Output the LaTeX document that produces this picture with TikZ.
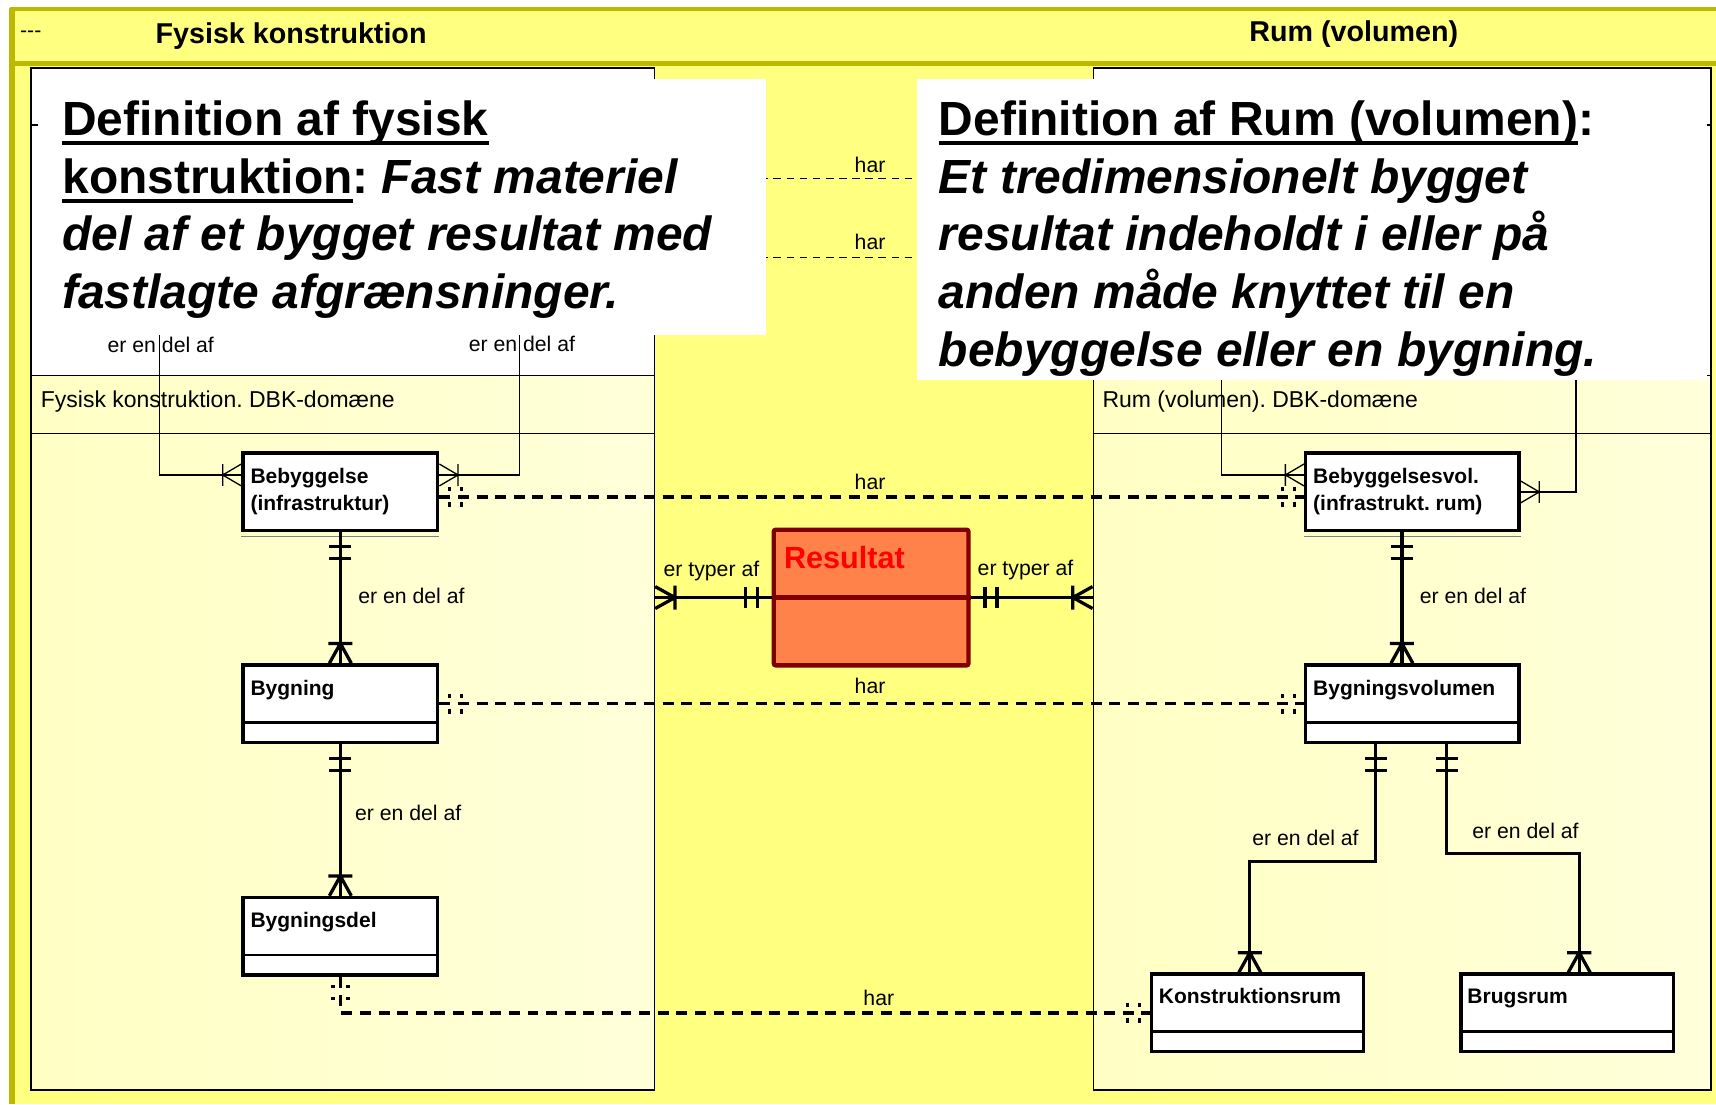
\documentclass[tikz,border=0pt]{standalone}
\usepackage{fontspec}
\setmainfont{Liberation Sans}
\usetikzlibrary{calc}
\definecolor{olivebar}{RGB}{189,184,0}
\definecolor{bgyellow}{RGB}{255,255,128}
\definecolor{domyellow}{RGB}{255,255,196}
\definecolor{domlight}{RGB}{255,255,218}
\definecolor{resfill}{RGB}{255,130,74}
\definecolor{resline}{RGB}{128,0,0}
% thick underline for the definition headings
\newcommand{\thickul}[1]{\leavevmode\setbox0\hbox{#1}\rlap{\vrule height -2.6pt depth 4.4pt width \wd0}\box0}
\frenchspacing

\begin{document}
\begin{tikzpicture}[x=0.5pt,y=-0.5pt,
    entity/.style={draw,line width=1.5pt,fill=white,minimum width=89pt,minimum height=35.5pt,inner sep=0pt},
    ename/.style={anchor=north west,inner sep=0pt,align=left,font=\fontsize{9.6}{12.5}\selectfont\bfseries},
    lbl/.style={anchor=base west,inner sep=0pt,font=\fontsize{9.7}{11.6}\selectfont},
    bandtitle/.style={anchor=base,inner sep=0pt,font=\fontsize{13.1}{15}\selectfont\bfseries},
    domtitle/.style={anchor=base west,inner sep=0pt,font=\fontsize{10.5}{12.6}\selectfont},
    deftext/.style={anchor=north west,inner sep=0pt,align=left,font=\fontsize{21.9}{26.35}\selectfont\bfseries},
    defbox/.style={fill=white,inner sep=0pt},
    panel/.style={draw,line width=0.7pt},
    divider/.style={line width=0.7pt},
    rel/.style={line width=1.5pt},
    relthin/.style={line width=0.6pt},
    hasline/.style={line width=1.5pt,dash pattern=on 5pt off 3.5pt},
    hasthin/.style={line width=0.5pt,dash pattern=on 3.5pt off 2.5pt},
    hasmark/.style={line width=1.3pt,dash pattern=on 2pt off 5pt},
    onlyone/.pic={\draw[rel] (13,-10) -- (13,10) (24,-10) -- (24,10);},
    onemany/.pic={\draw[rel] (18,-11) -- (18,11) (0,-10) -- (18,0) -- (0,10);},
    onemanythin/.pic={\draw[relthin] (17,-10) -- (17,10) (0,-10) -- (17,0) -- (0,10);},
    zeroone/.pic={\draw[hasmark] (9,-9) -- (9,9) (20,-9) -- (20,9);}]
\useasboundingbox (0,0) rectangle (1568,1009);

% frame and title band
\fill[white] (0,0) rectangle (1568,1009);
\fill[bgyellow] (11,8) rectangle (1568,1009);
\draw[olivebar,line width=2pt] (9,8) -- (1568,8) (11,58) -- (1568,58);
\draw[olivebar,line width=2.5pt] (11,7) -- (11,1009);
\node[lbl] at (18,34) {-{}-{}-};
\node[bandtitle] at (266,39.5) {Fysisk konstruktion};
\node[bandtitle] at (1237,37.5) {Rum (volumen)};

% the two domains
\fill[white] (28.5,62) rectangle (598,343);
\shade[left color=domyellow,right color=domlight] (28.5,343) rectangle (598,996);
\fill[white] (999,62) rectangle (1563.5,343);
\shade[left color=domyellow,right color=domlight] (999,343) rectangle (1563.5,996);
\foreach \y in {114,343,396} {
  \draw[divider] (28.5,\y) -- (598,\y);
  \draw[divider] (999,\y) -- (1563.5,\y);
}
\node[panel,minimum width=284.75pt,minimum height=467pt] (lpanel) at (313.25,529) {};
\node[panel,minimum width=282.25pt,minimum height=467pt] (rpanel) at (1281.25,529) {};
\node[domtitle] at (37,372) {Fysisk konstruktion. DBK-domæne};
\node[domtitle] at (1007,372) {Rum (volumen). DBK-domæne};

% entities
\node[entity] (bebyg) at (311,449.5) {};
\node[entity] (bygn) at (311,643) {};
\node[entity] (bdel) at (311,855.5) {};
\node[entity,minimum width=97.5pt] (bvol) at (1290.5,449.5) {};
\node[entity,minimum width=97.5pt] (bygvol) at (1290.5,643) {};
\node[entity,minimum width=97pt] (konrum) at (1149,925.5) {};
\node[entity,minimum width=97pt] (brug) at (1432,925.5) {};
\node[ename] at ($(bebyg.north west)+(8,15)$) {Bebyggelse\\(infrastruktur)};
\node[ename] at ($(bygn.north west)+(8,15)$) {Bygning};
\node[ename] at ($(bdel.north west)+(8,15)$) {Bygningsdel};
\node[ename] at ($(bvol.north west)+(8,15)$) {Bebyggelsesvol.\\(infrastrukt. rum)};
\node[ename] at ($(bygvol.north west)+(8,15)$) {Bygningsvolumen};
\node[ename] at ($(konrum.north west)+(8,14.5)$) {Konstruktionsrum};
\node[ename] at ($(brug.north west)+(7,14.5)$) {Brugsrum};
\foreach \e in {bygn,bdel,bygvol,konrum,brug}
  \draw[line width=1.2pt] ([yshift=10pt]\e.south west) -- ([yshift=10pt]\e.south east);
\foreach \e in {bebyg,bvol}
  \draw[gray,line width=0.5pt] ([yshift=-2pt]\e.south west) -- ([yshift=-2pt]\e.south east);

% har lines behind the definitions
\draw[hasthin] (lpanel.east |- 0,163) -- (rpanel.west |- 0,163);
\draw[hasthin] (lpanel.east |- 0,235) -- (rpanel.west |- 0,235);
\node[lbl,anchor=base] at (795,158) {har};
\node[lbl,anchor=base] at (795,228) {har};

% er en del af (recursive)
\draw[relthin] ($(bebyg.west)+(0,-15.5)$) -| (146,290);
\draw[relthin] ($(bebyg.east)+(0,-15.5)$) -| (475,290);
\draw[relthin] ($(bvol.west)+(0,-15.5)$) -| (1116,330);
\draw[relthin] (bvol.east) -| (1440,330);
\pic[rotate=180] at ($(bebyg.west)+(0,-15.5)$) {onemanythin};
\pic at ($(bebyg.east)+(0,-15.5)$) {onemanythin};
\pic[rotate=180] at ($(bvol.west)+(0,-15.5)$) {onemanythin};
\pic at (bvol.east) {onemanythin};
\node[lbl] at (98,322) {er en del af};
\node[lbl] at (428,321) {er en del af};

% definitions
\node[defbox,minimum width=332.5pt,minimum height=117pt] (ldef) at (367.5,189) {};
\node[defbox,minimum width=361pt,minimum height=137.5pt] (rdef) at (1199,209.5) {};
\node[deftext] at ($(ldef.north west)+(22,20)$) {\thickul{Definition af fysisk}\\
  \thickul{konstruktion}: \textit{Fast materiel}\\
  \textit{del af et bygget resultat med}\\
  \textit{fastlagte afgrænsninger.}};
\node[deftext] at ($(rdef.north west)+(20,20)$) {\thickul{Definition af Rum (volumen)}:\\
  \textit{Et tredimensionelt bygget}\\
  \textit{resultat indeholdt i eller på}\\
  \textit{anden måde knyttet til en}\\
  \textit{bebyggelse eller en bygning.}};

% er en del af
\draw[rel] (bebyg.south) -- (bygn.north);
\draw[rel] (bygn.south) -- (bdel.north);
\draw[rel] ($(bvol.south)+(-9.5,0)$) -- ($(bygvol.north)+(-9.5,0)$);
\draw[rel] ($(bygvol.south)+(-33.5,0)$) -- ++(0,107) -| ($(konrum.north)+(-7,0)$);
\draw[rel] ($(bygvol.south)+(31.5,0)$) -- ++(0,100) -| ($(brug.north)+(11,0)$);
\pic[rotate=-90] at (bebyg.south) {onlyone};
\pic[rotate=90] at (bygn.north) {onemany};
\pic[rotate=-90] at (bygn.south) {onlyone};
\pic[rotate=90] at (bdel.north) {onemany};
\pic[rotate=-90] at ($(bvol.south)+(-9.5,0)$) {onlyone};
\pic[rotate=90] at ($(bygvol.north)+(-9.5,0)$) {onemany};
\pic[rotate=-90] at ($(bygvol.south)+(-33.5,0)$) {onlyone};
\pic[rotate=90] at ($(konrum.north)+(-7,0)$) {onemany};
\pic[rotate=-90] at ($(bygvol.south)+(31.5,0)$) {onlyone};
\pic[rotate=90] at ($(brug.north)+(11,0)$) {onemany};
\node[lbl] at (327,551) {er en del af};
\node[lbl] at (324,750) {er en del af};
\node[lbl] at (1297,551) {er en del af};
\node[lbl] at (1144,773) {er en del af};
\node[lbl] at (1345,766) {er en del af};

% har
\draw[hasline] ($(bebyg.east)+(0,4.5)$) -- ($(bvol.west)+(0,4.5)$);
\draw[hasline] (bygn.east) -- (bygvol.west);
\draw[hasline] (bdel.south) |- (konrum.west);
\pic at ($(bebyg.east)+(0,4.5)$) {zeroone};
\pic[rotate=180] at ($(bvol.west)+(0,4.5)$) {zeroone};
\pic at (bygn.east) {zeroone};
\pic[rotate=180] at (bygvol.west) {zeroone};
\pic[rotate=-90] at (bdel.south) {zeroone};
\pic[rotate=180] at (konrum.west) {zeroone};
\node[lbl,anchor=base] at (795,447) {har};
\node[lbl,anchor=base] at (795,634) {har};
\node[lbl,anchor=base] at (803,919) {har};

% Resultat
\node[draw=resline,line width=2pt,fill=resfill,rounded corners=1pt,minimum width=89pt,minimum height=62pt,inner sep=0pt] (result) at (796,546) {};
\draw[resline,line width=2pt] (result.west) -- (result.east);
\node[anchor=base west,inner sep=0pt,text=red,font=\fontsize{14}{16}\selectfont\bfseries] at (716,519) {Resultat};
\draw[rel] (result.west) -- (result.west -| lpanel.east);
\draw[rel] (result.east) -- (result.east -| rpanel.west);
\pic[rotate=180] at (result.west) {onlyone};
\pic at (result.west -| lpanel.east) {onemany};
\pic at (result.east) {onlyone};
\pic[rotate=180] at (result.east -| rpanel.west) {onemany};
\node[lbl] at (606,527) {er typer af};
\node[lbl] at (893,526) {er typer af};
\end{tikzpicture}
\end{document}
